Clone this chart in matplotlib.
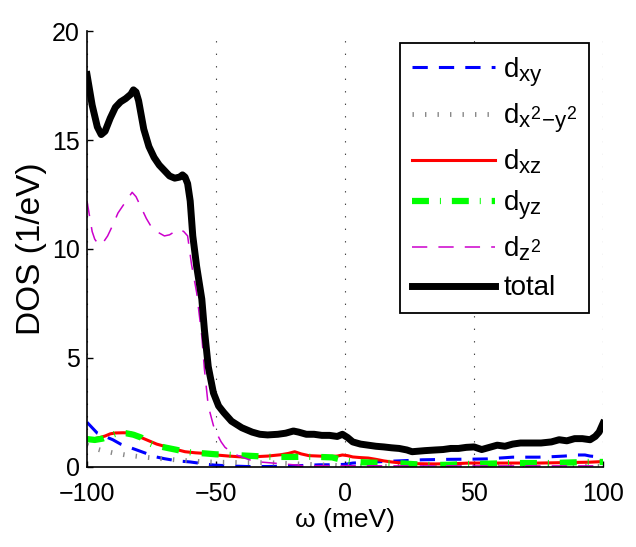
import matplotlib
matplotlib.use('Agg')
import matplotlib.pyplot as plt
import matplotlib._mathtext as mtext

plt.rcParams['font.family'] = ['Liberation Sans', 'DejaVu Sans']
plt.rcParams['mathtext.fontset'] = 'custom'
plt.rcParams['mathtext.rm'] = 'Liberation Sans'
plt.rcParams['mathtext.it'] = 'Liberation Sans'
plt.rcParams['lines.scale_dashes'] = False
# bigger sub/superscripts, closer to the reference legend
mtext.SHRINK_FACTOR = 0.8

# omega (meV) and DOS (1/eV)
w_total = [-100, -98, -96, -94.5, -93, -91, -89, -87, -85, -83, -82, -81, -80, -78, -76, -74, -72, -70,
           -68, -66, -64, -63, -62, -61, -60, -59, -57.5, -55.5, -54.5, -53, -51, -49, -47, -44, -40,
           -36, -33, -30, -26, -23, -20, -18, -15, -12, -9, -6, -3, -1, 1, 3, 6, 9, 12, 15, 18, 21,
           24, 26, 28, 31, 35, 38, 41, 44, 47, 50, 53, 56, 59, 62, 65, 68, 72, 76, 80, 83, 86, 89,
           92, 95, 97, 98.5, 100]
dos_total = [18.0, 16.6, 15.6, 15.25, 15.4, 16.0, 16.5, 16.75, 16.9, 17.1, 17.3, 17.2, 16.8, 15.5, 14.7,
             14.2, 13.85, 13.6, 13.35, 13.25, 13.3, 13.4, 13.3, 13.0, 12.2, 10.6, 9.2, 7.7, 6.3, 4.6,
             3.4, 2.8, 2.5, 2.1, 1.8, 1.6, 1.5, 1.47, 1.5, 1.55, 1.65, 1.6, 1.5, 1.5, 1.45, 1.45,
             1.4, 1.5, 1.35, 1.15, 1.05, 1.0, 0.95, 0.92, 0.88, 0.85, 0.78, 0.7, 0.72, 0.75, 0.78,
             0.8, 0.85, 0.85, 0.9, 0.92, 0.8, 0.9, 1.0, 0.95, 1.05, 1.1, 1.1, 1.1, 1.15, 1.25, 1.2,
             1.3, 1.3, 1.25, 1.4, 1.6, 2.0]

w_z2 = [-100, -99, -98, -97, -95.5, -94, -92, -90, -88, -86, -84, -82.5, -81, -79, -77, -75, -73, -70,
        -68, -66, -64, -62.5, -61, -59.5, -57.5, -55.5, -54.5, -53, -51, -50, -48, -46.5, -43, -40,
        -35, -30, -25, -20, -15, -10, 0, 20, 40, 60, 80, 100]
dos_z2 = [12.2, 11.5, 10.8, 10.45, 10.2, 10.25, 10.6, 11.1, 11.65, 12.0, 12.35, 12.6, 12.4, 11.9, 11.4,
          11.0, 10.8, 10.6, 10.65, 10.8, 10.9, 10.8, 10.6, 9.3, 8.0, 6.0, 4.5, 2.8, 1.9, 1.6, 1.15,
          0.9, 0.6, 0.45, 0.25, 0.2, 0.15, 0.1, 0.05, 0.06, 0.06, 0.05, 0.05, 0.05, 0.05, 0.05]

w_xy = [-100, -98, -96, -93, -90, -87, -84, -80, -77, -74, -70, -65, -60, -55, -51, -45, -38, -30, -20,
        -10, -5, 0, 3, 10, 15, 25, 30, 40, 50, 55, 65, 75, 80, 85, 90, 93, 95, 100]
dos_xy = [2.05, 1.8, 1.55, 1.4, 1.25, 1.05, 0.92, 0.75, 0.62, 0.48, 0.38, 0.28, 0.23, 0.15, 0.09, 0.05,
          0.02, 0.02, 0.05, 0.1, 0.1, 0.12, 0.18, 0.22, 0.25, 0.3, 0.33, 0.35, 0.36, 0.37, 0.45, 0.45,
          0.47, 0.5, 0.55, 0.55, 0.5, 0.45]

w_x2y2 = [-100, -97, -94, -90, -85, -80, -75, -70, -65, -60, -55, -50, -40, -30, -20, -10, -5, 0, 10,
          30, 60, 100]
dos_x2y2 = [1.0, 0.85, 0.75, 0.65, 0.55, 0.48, 0.42, 0.37, 0.32, 0.28, 0.24, 0.22, 0.2, 0.2, 0.15, 0.1,
            0.08, 0.05, 0.03, 0.03, 0.03, 0.03]

w_xz = [-100, -97, -95, -93, -91, -89, -86, -83, -81, -79, -76, -73, -70, -66, -62, -58, -54, -50, -45,
        -40, -35, -30, -25, -22, -19.5, -17, -14, -10, -6, -3, -1, 1, 3, 6, 9, 12, 15, 18, 22, 28,
        35, 42, 48, 55, 65, 75, 85, 95, 100]
dos_xz = [1.28, 1.3, 1.35, 1.42, 1.52, 1.56, 1.57, 1.56, 1.48, 1.35, 1.2, 1.05, 0.95, 0.82, 0.7, 0.65,
          0.62, 0.55, 0.5, 0.46, 0.47, 0.5, 0.56, 0.62, 0.7, 0.6, 0.52, 0.5, 0.48, 0.5, 0.55, 0.52,
          0.46, 0.43, 0.41, 0.35, 0.28, 0.23, 0.18, 0.15, 0.14, 0.15, 0.18, 0.18, 0.18, 0.18, 0.2,
          0.22, 0.25]

w_yz = [-100, -97, -94, -92, -90, -88, -85, -82, -79, -77, -74, -70, -65, -62, -58, -54, -50, -45, -40,
        -35, -30, -25, -20, -15, -10, -5, -2, 1, 4, 10, 20, 28, 33, 40, 48, 55, 65, 80, 94, 100]
dos_yz = [1.28, 1.24, 1.3, 1.38, 1.48, 1.56, 1.55, 1.48, 1.35, 1.15, 1.0, 0.9, 0.78, 0.7, 0.65, 0.62,
          0.58, 0.56, 0.53, 0.5, 0.47, 0.46, 0.46, 0.47, 0.46, 0.44, 0.35, 0.28, 0.23, 0.2, 0.18,
          0.12, 0.09, 0.1, 0.14, 0.15, 0.18, 0.18, 0.23, 0.23]

fig = plt.figure(figsize=(6.36, 5.47), dpi=100)
ax = fig.add_axes([0.1368, 0.1463, 0.8113, 0.7970])

ax.plot(w_xy, dos_xy, color='#0000ff', lw=2.2, ls=(0, (11, 8)), label=r'd$_{\mathregular{xy}}$')
ax.plot(w_x2y2, dos_x2y2, color='#888888', lw=3.5, ls=(0, (1.0, 8.0)), solid_capstyle='butt',
        dash_capstyle='butt', label=r'd$_{\mathregular{x^2\!-\!y^2}}$')
ax.plot(w_xz, dos_xz, color='#ff0000', lw=2.2, ls='-', label=r'd$_{\mathregular{xz}}$')
ax.plot(w_yz, dos_yz, color='#00ff00', lw=4.5, ls=(0, (12.2, 7.9, 0.7, 7.9)), dash_capstyle='butt',
        label=r'd$_{\mathregular{yz}}$')
ax.plot(w_z2, dos_z2, color='#cc00cc', lw=1.1, ls=(0, (11, 8)), label=r'd$_{\mathregular{z^2}}$')
ax.plot(w_total, dos_total, color='black', lw=5, ls='-', label='total')

ax.set_xlim(-100, 100)
ax.set_ylim(0, 20)
ax.set_xticks([-100, -50, 0, 50, 100])
ax.set_yticks([0, 5, 10, 15, 20])
ax.xaxis.grid(True, color='#444444', lw=0.8, ls=(0, (1, 8)))
ax.tick_params(direction='in', length=4, width=1, labelsize=18, top=False, right=False)
ax.tick_params(axis='x', pad=11)
ax.tick_params(axis='y', pad=5)
for s in ['top', 'right']:
    ax.spines[s].set_visible(False)
for s in ['left', 'bottom']:
    ax.spines[s].set_linewidth(1.2)

ax.set_xlabel(r'ω (meV)', fontsize=19, labelpad=1)
ax.set_ylabel('DOS (1/eV)', fontsize=24, labelpad=4)

leg = ax.legend(loc='upper right', bbox_to_anchor=(0.973, 0.972), borderaxespad=0, fontsize=20,
                handlelength=3.0, handletextpad=0.3, labelspacing=0.45, fancybox=False,
                framealpha=1, edgecolor='black', borderpad=0.42)
leg.get_frame().set_linewidth(1.3)

fig.savefig('out.png', dpi=100)
